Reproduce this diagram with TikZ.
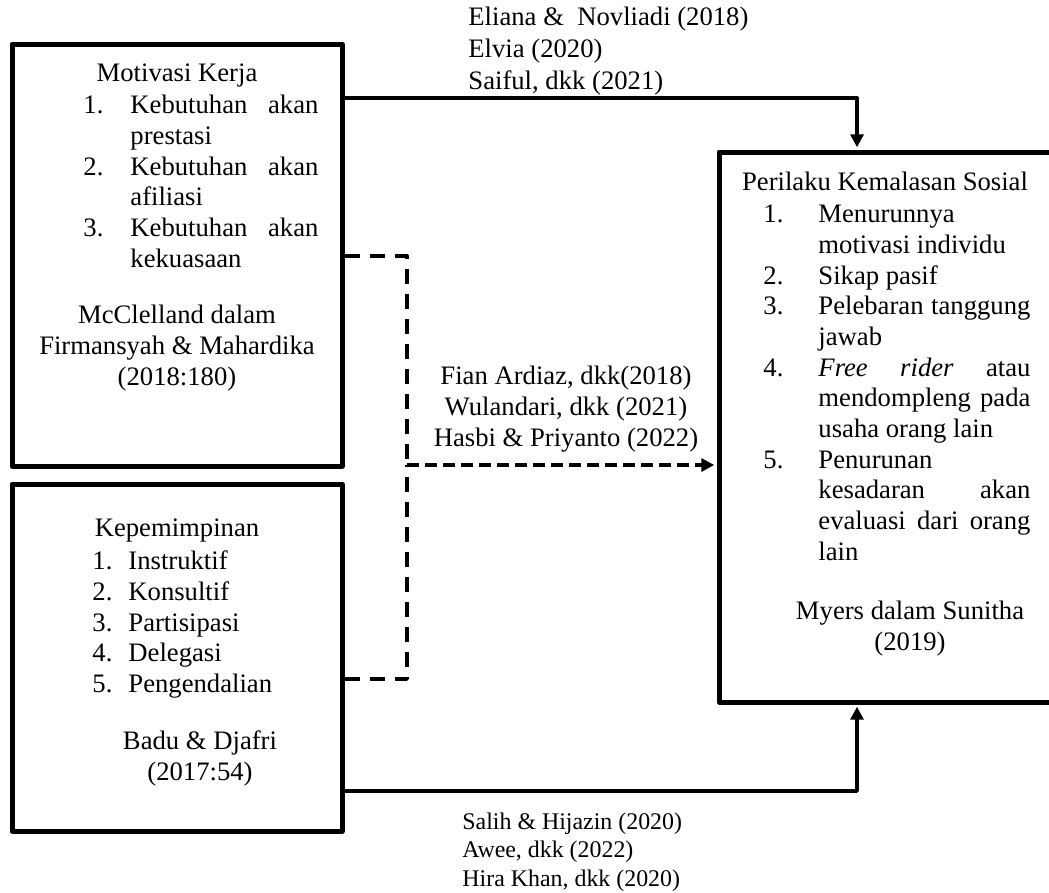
\documentclass[tikz,border=0pt]{standalone}
\usepackage{fontspec}
\setmainfont{Liberation Serif}
\usetikzlibrary{arrows.meta,fit}

\hyphenpenalty=10000
\exhyphenpenalty=10000
\tolerance=10000
\hbadness=10000
\lineskiplimit=-5pt

\newlength\butirindent
\newcommand{\butir}[2]{\par\hangindent=\butirindent\hangafter=1\noindent\makebox[\butirindent][l]{#1}#2\par}

\begin{document}
\begin{tikzpicture}[x=0.45pt, y=-0.45pt, line join=round,
    font=\fontsize{12pt}{13.8pt}\selectfont,
    box/.style={draw, line width=2.25pt, inner sep=0pt},
    teks/.style={inner sep=0pt, align=center, anchor=base},
    daftar/.style={inner sep=0pt, align=justify, anchor=base west},
    rujukan/.style={inner sep=0pt, align=left, anchor=base west},
    panah/.style={line width=1.5pt, -{Triangle[length=5.8pt,width=5.8pt]}, shorten >=1pt},
    putus/.style={line width=1.5pt, dash pattern=on 6.75pt off 4.5pt},
    putuspendek/.style={line width=1.5pt, dash pattern=on 5.4pt off 2.7pt}]
    \useasboundingbox (0,0) rectangle (1049,892);
    \clip (0,0) rectangle (1049,892);

    % kotak variabel
    \node[box, fit={(12,44) (342,466)}] (motivasi) {};
    \node[box, fit={(12,484) (342,831)}] (kepemimpinan) {};
    \node[box, fit={(719,152) (1075,702)}] (perilaku) {};

    % isi kotak motivasi
    \node[teks] (judulmotivasi) at (177,81) {Motivasi Kerja};
    \node[daftar, text width=105.75pt] (daftarmotivasi) at (83,83) {\setlength\butirindent{21.15pt}%
        \butir{1.}{Kebutuhan akan prestasi}%
        \butir{2.}{Kebutuhan akan afiliasi}%
        \butir{3.}{Kebutuhan akan kekuasaan}};
    \node[teks] (sumbermotivasi) at (177,385) {McClelland dalam\\Firmansyah \& Mahardika\\(2018:180)};

    % isi kotak kepemimpinan
    \node[teks] (judulkepemimpinan) at (177,536) {Kepemimpinan};
    \node[daftar, text width=90pt] (daftarkepemimpinan) at (92,539) {\setlength\butirindent{16.2pt}%
        \butir{1.}{Instruktif}%
        \butir{2.}{Konsultif}%
        \butir{3.}{Partisipasi}%
        \butir{4.}{Delegasi}%
        \butir{5.}{Pengendalian}};
    \node[teks] (sumberkepemimpinan) at (200,780) {Badu \& Djafri\\(2017:54)};

    % isi kotak perilaku
    \node[teks] (judulperilaku) at (885,190) {Perilaku Kemalasan Sosial};
    \node[daftar, text width=120.15pt] (daftarperilaku) at (763,192) {\setlength\butirindent{24.75pt}%
        \butir{1.}{Menurunnya motivasi individu}%
        \butir{2.}{Sikap pasif}%
        \butir{3.}{Pelebaran tanggung jawab}%
        \butir{4.}{\textit{Free rider} atau mendompleng pada usaha orang lain}%
        \butir{5.}{Penurunan kesadaran akan evaluasi dari orang lain}};
    \node[teks] (sumberperilaku) at (910,650) {Myers dalam Sunitha\\(2019)};

    % titik bantu
    \coordinate (belokatas) at (857,98);
    \coordinate (belokbawah) at (857,791);
    \coordinate (putusatas) at (407,256);
    \coordinate (putusbawah) at (407,679);
    \coordinate (putustengah) at (407,465);

    % panah
    \draw[panah] (motivasi.east |- belokatas) -| (perilaku.north -| belokatas);
    \draw[panah] (kepemimpinan.east |- belokbawah) -| (perilaku.south -| belokbawah);
    \draw[putus] (motivasi.east |- putusatas) -- (putusatas) -- (putustengah);
    \draw[putus] (kepemimpinan.east |- putusbawah) -- (putusbawah) -- (putustengah);
    \draw[putuspendek, panah] (putustengah) -- (perilaku.west |- putustengah);

    % rujukan
    \node[rujukan, font=\fontsize{12pt}{14.2pt}\selectfont] (rujukanatas) at (468,89) {Eliana \&\ \ Novliadi (2018)\\Elvia (2020)\\Saiful, dkk (2021)};
    \node[teks] (rujukantengah) at (566,446) {Fian Ardiaz, dkk(2018)\\Wulandari, dkk (2021)\\Hasbi \& Priyanto (2022)};
    \node[rujukan, font=\fontsize{10.75pt}{12.8pt}\selectfont] (rujukanbawah) at (462,886) {Salih \& Hijazin (2020)\\Awee, dkk (2022)\\Hira Khan, dkk (2020)};
\end{tikzpicture}
\end{document}
